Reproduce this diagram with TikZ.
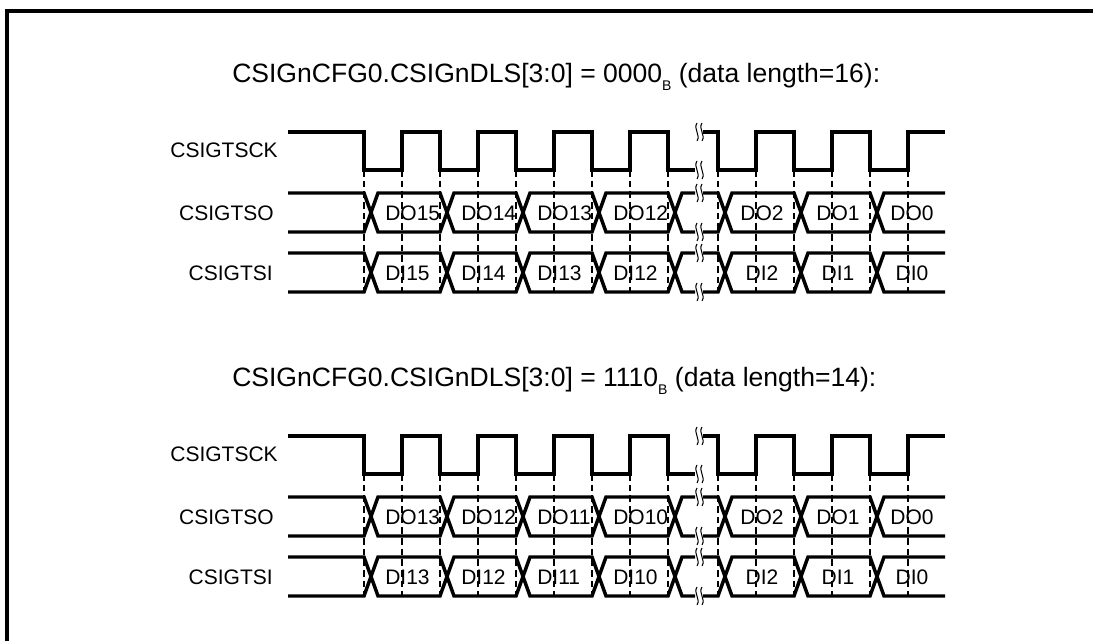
\documentclass[tikz,border=0pt]{standalone}
\usepackage{fontspec}
\setmainfont{Liberation Sans}
\tikzset{
  sig/.style={line width=2.6pt, line join=miter, line cap=butt},
  gridline/.style={line width=0.9pt, dash pattern=on 5pt off 3pt},
  brk/.style={line width=0.8pt},
  lbl/.style={font=\fontsize{15.75}{18}\selectfont, inner sep=0pt},
  ttl/.style={font=\fontsize{19.9}{23}\selectfont, inner sep=0pt, anchor=base west},
  frameline/.style={line width=2.4pt},
}
\newcommand\SubB{\raisebox{-0.3em}{\fontsize{10.5}{11}\selectfont B}}
\newcommand\DataRow[2]{%
  \draw[sig] (288,#1) -- (364,#1) -- (378,#2) -- (440,#2) -- (454,#1) -- (516,#1) -- (530,#2) -- (592,#2) -- (606,#1) -- (668,#1) -- (682,#2) -- (695,#2);
  \draw[sig] (288,#2) -- (364,#2) -- (378,#1) -- (440,#1) -- (454,#2) -- (516,#2) -- (530,#1) -- (592,#1) -- (606,#2) -- (668,#2) -- (682,#1) -- (695,#1);
  \draw[sig] (703,#1) -- (718,#1) -- (732,#2) -- (794,#2) -- (808,#1) -- (870,#1) -- (884,#2) -- (945,#2);
  \draw[sig] (703,#2) -- (718,#2) -- (732,#1) -- (794,#1) -- (808,#2) -- (870,#2) -- (884,#1) -- (945,#1);
}
\newcommand\TimingBlock[4]{%
  \node[ttl] (#1title) at (232,82.5) {CSIGnCFG0.CSIGnDLS[3:0] = #2\SubB{} (data length=#3):};
  \node[lbl,anchor=east] (#1sck) at (278,150) {CSIGTSCK};
  \node[lbl,anchor=east] (#1so) at (274,213) {CSIGTSO};
  \node[lbl,anchor=east] (#1si) at (273,273) {CSIGTSI};
  % dashed edge markers
  \foreach \x in {364,402,...,668,718,756,...,908}
    \draw[gridline] (\x,170) -- (\x,292);
  % clock
  \draw[sig] (288,132) -- (364,132) -- (364,170) -- (402,170) -- (402,132) -- (440,132) -- (440,170) -- (478,170) -- (478,132) -- (516,132) -- (516,170) -- (554,170) -- (554,132) -- (592,132) -- (592,170) -- (630,170) -- (630,132) -- (668,132) -- (668,170) -- (695,170);
  \draw[sig] (703,132) -- (718,132) -- (718,170) -- (756,170) -- (756,132) -- (794,132) -- (794,170) -- (832,170) -- (832,132) -- (870,132) -- (870,170) -- (908,170) -- (908,132) -- (945,132);
  % data rows
  \DataRow{193}{232}
  \DataRow{253}{292}
  % break marks
  \foreach \y in {132,170,193,232,253,292}
    \foreach \x in {697,702}
      \draw[brk] (\x,\y-9) .. controls (\x-4,\y-3) and (\x+4,\y+3) .. (\x,\y+9);
  % data labels
  \foreach \n [count=\i] in {#4} {
    \node[lbl,anchor=west] (#1do\i) at ({385+76*(\i-1)},213.5) {DO\n};
    \node[lbl,anchor=west] (#1di\i) at ({385+76*(\i-1)},273) {DI\n};
  }
  \foreach \n/\xc in {2/762,1/838,0/912} {
    \node[lbl] (#1dob\n) at (\xc,213.5) {DO\n};
    \node[lbl] (#1dib\n) at (\xc,273) {DI\n};
  }
}
\begin{document}
\begin{tikzpicture}[x=0.75pt,y=-0.75pt]
  \useasboundingbox (0,0) rectangle (1093,641);
  \draw[frameline] (7,641) -- (7,11) -- (1093,11);
  \begin{scope}
    \TimingBlock{a}{0000}{16}{15,14,13,12}
  \end{scope}
  \begin{scope}[yshift=-228pt]
    \TimingBlock{b}{1110}{14}{13,12,11,10}
  \end{scope}
\end{tikzpicture}
\end{document}
